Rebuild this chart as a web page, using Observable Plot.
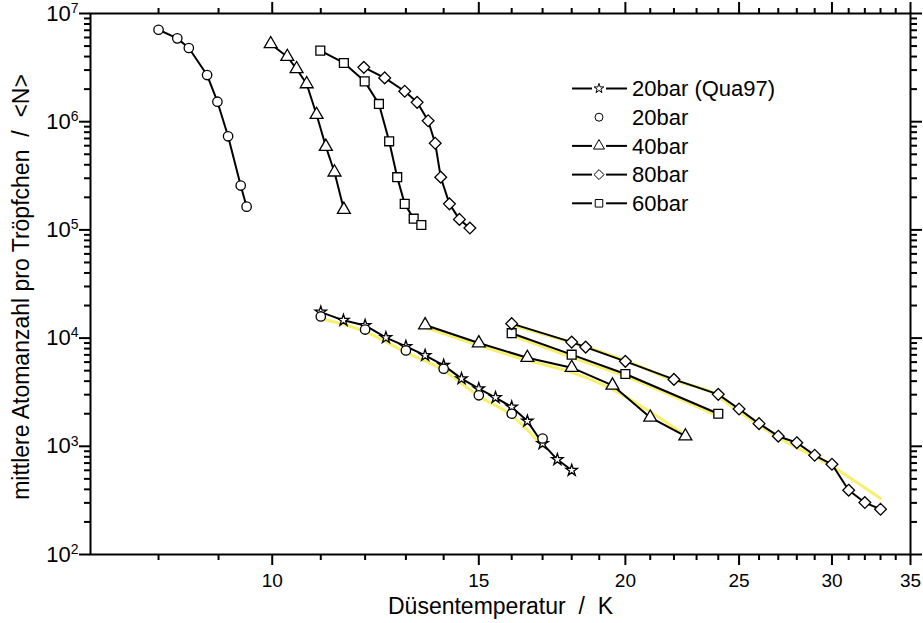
<!DOCTYPE html>
<html><head><meta charset="utf-8">
<script src="https://cdn.jsdelivr.net/npm/d3@7"></script>
<script src="https://cdn.jsdelivr.net/npm/@observablehq/plot@0.6"></script>
<style>
body{margin:0;background:#fff;}
#chart{width:923px;height:623px;}
svg text{white-space:pre;}
</style></head><body><div id="chart"></div>
<script>
// ---- upper group (connected by black lines) ----
const upCircleT = [8.00, 8.30, 8.49, 8.80, 8.98, 9.17, 9.40, 9.51];
const upCircleN = [7.08e6, 5.89e6, 4.80e6, 2.70e6, 1.53e6, 7.33e5, 2.57e5, 1.64e5];
const upTriT = [9.97, 10.30, 10.49, 10.70, 10.91, 11.11, 11.30, 11.51];
const upTriN = [5.23e6, 3.99e6, 3.07e6, 2.23e6, 1.16e6, 5.89e5, 3.41e5, 1.54e5];
const upSqT = [10.99, 11.51, 11.99, 12.33, 12.58, 12.78, 12.97, 13.20, 13.40];
const upSqN = [4.54e6, 3.49e6, 2.36e6, 1.46e6, 6.59e5, 3.07e5, 1.74e5, 1.27e5, 1.11e5];
const upDiaT = [11.97, 12.47, 12.97, 13.29, 13.58, 13.77, 13.92, 14.16, 14.44, 14.74];
const upDiaN = [3.18e6, 2.54e6, 1.91e6, 1.51e6, 1.02e6, 6.32e5, 3.07e5, 1.74e5, 1.25e5, 1.04e5];

// ---- lower group ----
const starT = [11, 11.5, 12, 12.5, 13, 13.5, 14, 14.5, 15, 15.5, 16, 16.5, 17, 17.5, 18];
const starN = [1.74e4, 1.46e4, 1.31e4, 1.01e4, 8.38e3, 6.92e3, 5.60e3, 4.22e3, 3.41e3, 2.82e3, 2.31e3, 1.71e3, 1.06e3, 754, 600];
const loCircleT = [11, 12, 13, 14, 15, 16, 17];
const loCircleN = [1.585e4, 1.20e4, 7.69e3, 5.21e3, 2.96e3, 2.00e3, 1.18e3];
const loTriT = [13.5, 15, 16.5, 18, 19.5, 21, 22.5];
const loTriN = [1.32e4, 9.0e3, 6.59e3, 5.33e3, 3.66e3, 1.85e3, 1.24e3];
const loSqT = [16, 18, 20, 24];
const loSqN = [1.11e4, 7.03e3, 4.66e3, 2.0e3];
const loDiaT = [16, 18, 18.5, 20, 22, 24, 25, 26, 27, 28, 29, 30, 31, 32, 33];
const loDiaN = [1.36e4, 9.18e3, 8.26e3, 6.10e3, 4.15e3, 3.02e3, 2.21e3, 1.62e3, 1.24e3, 1.08e3, 826, 682, 393, 302, 262];

// ---- yellow fit curves ----
const fit20T = [11, 12, 13, 14, 15, 16, 17];
const fit20N = [1.52e4, 1.15e4, 7.38e3, 5.03e3, 2.90e3, 1.93e3, 1.0e3];
const fit40T = [13.5, 15, 16.5, 18, 19.5, 20.9, 22.3];
const fit40N = [1.26e4, 8.57e3, 6.22e3, 4.82e3, 3.36e3, 2.15e3, 1.35e3];
const fit60T = [16, 18, 20, 23.7];
const fit60N = [1.06e4, 6.64e3, 4.43e3, 2.02e3];
const fit80T = [16, 18.7, 20, 22, 23.8, 24.9, 26.95, 29.9, 33];
const fit80N = [1.31e4, 7.98e3, 6.22e3, 4.06e3, 3.07e3, 2.15e3, 1.22e3, 668, 329];

// ---- ticks ----
const xMajor = [10, 15, 20, 25, 30, 35];
const xMinor = [8, 9, 11, 12, 13, 14, 16, 17, 18, 19, 21, 22, 23, 24, 26, 27, 28, 29, 31, 32, 33, 34];
const yMajor = [1e2, 1e3, 1e4, 1e5, 1e6, 1e7];
const yDecades = [1e2, 1e3, 1e4, 1e5, 1e6];
const yMults = [2, 3, 4, 5, 6, 7, 8, 9];
const yMinor = yDecades.flatMap(d => yMults.map(m => m * d));

// ---- legend ----
const legendLabels = ["20bar (Qua97)", "20bar", "40bar", "80bar", "60bar"];
const legendSymbols = ["star", "circle", "triangle", "diamond2", "square"];
const legendLine = [true, false, true, true, true];

const xLabel = "Düsentemperatur  /  K";
const yLabel = "mittlere Atomanzahl pro Tröpfchen  /  <N>";

const rows = (T, N) => T.map((t, i) => ({T: t, N: N[i]}));
const sym = {star: 3.6, circle: 4.7, triangle: 4.8, diamond2: 5.3, square: 5.0};

const series = [
  {d: rows(upCircleT, upCircleN), s: "circle", line: true},
  {d: rows(upTriT, upTriN), s: "triangle", line: true},
  {d: rows(upSqT, upSqN), s: "square", line: true},
  {d: rows(upDiaT, upDiaN), s: "diamond2", line: true},
  {d: rows(starT, starN), s: "star", line: true},
  {d: rows(loCircleT, loCircleN), s: "circle", line: false},
  {d: rows(loTriT, loTriN), s: "triangle", line: true},
  {d: rows(loSqT, loSqN), s: "square", line: true},
  {d: rows(loDiaT, loDiaN), s: "diamond2", line: true}
];
const fits = [rows(fit20T, fit20N), rows(fit40T, fit40N), rows(fit60T, fit60N), rows(fit80T, fit80N)];

const yellow = "#f7f06a";

const marks = [];
fits.forEach(f => marks.push(Plot.line(f, {x: "T", y: "N", stroke: yellow, strokeWidth: 3, curve: "monotone-x"})));
series.forEach(s => { if (s.line) marks.push(Plot.line(s.d, {x: "T", y: "N", stroke: "black", strokeWidth: 2})); });
series.forEach(s => marks.push(Plot.dot(s.d, {x: "T", y: "N", symbol: s.s, r: sym[s.s], fill: "white", stroke: "black", strokeWidth: 1.3})));

const tickFont = 19;
marks.push(
  Plot.axisX(xMajor, {anchor: "bottom", tickSize: 11, tickPadding: 8, tickFormat: d => String(d), fontSize: tickFont, strokeWidth: 2, label: null}),
  Plot.axisX(xMinor, {anchor: "bottom", tickSize: 6, tickFormat: () => "", strokeWidth: 2, label: null}),
  Plot.axisX(xMajor, {anchor: "top", tickSize: 12, tickFormat: () => "", strokeWidth: 2, label: null}),
  Plot.axisX(xMinor, {anchor: "top", tickSize: 6, tickFormat: () => "", strokeWidth: 2, label: null}),
  Plot.axisY(yMajor, {anchor: "left", tickSize: 11, tickPadding: 1, tickFormat: d => "10^" + Math.round(Math.log10(d)), fontSize: 22, strokeWidth: 2, label: null}),
  Plot.axisY(yMinor, {anchor: "left", tickSize: 6, tickFormat: () => "", strokeWidth: 2, label: null}),
  Plot.axisY(yMajor, {anchor: "right", tickSize: 11, tickFormat: () => "", strokeWidth: 2, label: null}),
  Plot.axisY(yMinor, {anchor: "right", tickSize: 6, tickFormat: () => "", strokeWidth: 2, label: null}),
  Plot.frame({stroke: "black", strokeWidth: 2}),
  Plot.text([xLabel], {text: d => d, frameAnchor: "bottom", lineAnchor: "top", dy: 43, fontSize: 23}),
  Plot.text([yLabel], {text: d => d, frameAnchor: "left", rotate: -90, textAnchor: "middle", lineAnchor: "middle", dx: -69, dy: 3, fontSize: 23})
);

const svg = Plot.plot({
  width: 923, height: 623,
  marginLeft: 90, marginRight: 13, marginTop: 13, marginBottom: 69,
  x: {type: "log", domain: [7, 35]},
  y: {type: "log", domain: [1e2, 1e7]},
  style: {fontFamily: "'Liberation Sans', Arial, sans-serif", color: "black", background: "white", overflow: "visible"},
  marks
});

// superscript exponents on y tick labels
d3.select(svg).selectAll("text").each(function () {
  const t = this.textContent;
  if (!/^10\^\d$/.test(t)) return;
  const [b, e] = t.split("^");
  const sel = d3.select(this);
  sel.text(b);
  sel.append("tspan").attr("dy", "-0.55em").attr("font-size", "14px").text(e);
});

// legend drawn inside the plot area
const lg = d3.select(svg).append("g").attr("font-size", 22).attr("fill", "black").attr("text-anchor", "start");
const symMap = {star: d3.symbolStar, circle: d3.symbolCircle, triangle: d3.symbolTriangle, diamond2: d3.symbolDiamond2, square: d3.symbolSquare};
legendLabels.forEach((lab, i) => {
  const y = 88.5 + i * 28.7;
  const g = lg.append("g").attr("transform", `translate(0,${y})`);
  if (legendLine[i]) {
    g.append("line").attr("x1", 572).attr("x2", 592).attr("stroke", "black").attr("stroke-width", 2);
    g.append("line").attr("x1", 606).attr("x2", 627).attr("stroke", "black").attr("stroke-width", 2);
  }
  const r = sym[legendSymbols[i]] * 0.85;
  g.append("path").attr("transform", "translate(599,0)")
    .attr("d", d3.symbol(symMap[legendSymbols[i]], r * r * Math.PI)())
    .attr("fill", "white").attr("stroke", "black").attr("stroke-width", 1);
  g.append("text").attr("x", 632).attr("dy", "0.35em").attr("text-anchor", "start").text(lab);
});

document.getElementById("chart").appendChild(svg);
</script></body></html>
